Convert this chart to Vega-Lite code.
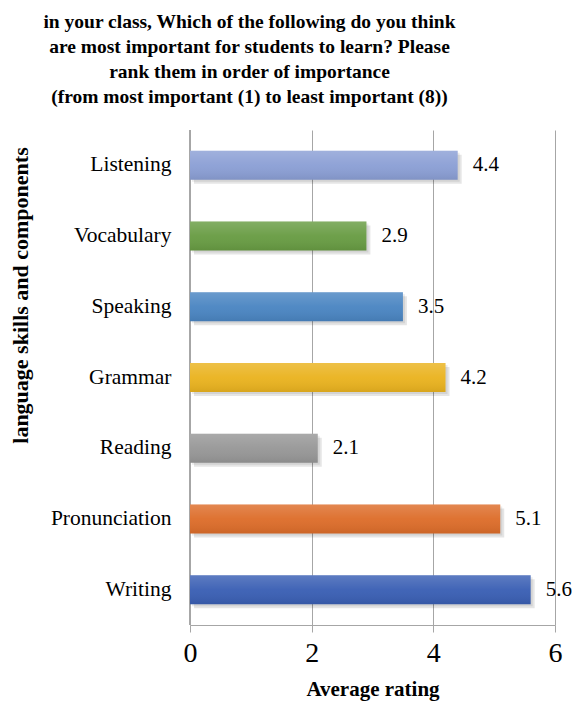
{
  "$schema": "https://vega.github.io/schema/vega-lite/v6.json",
  "width": 365,
  "height": 495,
  "autosize": "none",
  "padding": {"left": 190, "top": 130, "right": 20, "bottom": 77},
  "background": "white",
  "title": {
    "text": [
      "in your class, Which of the following do you think",
      "are most important for students to learn?  Please",
      "rank them  in order of importance",
      "(from most important (1) to least important (8))"
    ],
    "font": "Liberation Serif",
    "fontSize": 19.5,
    "fontWeight": "bold",
    "color": "#000000",
    "lineHeight": 25,
    "anchor": "middle",
    "frame": "group",
    "dx": -123,
    "offset": 22
  },
  "config": {
    "view": {"stroke": null},
    "font": "Liberation Serif",
    "axis": {"labelFont": "Liberation Serif", "titleFont": "Liberation Serif", "labelColor": "#000", "titleColor": "#000"}
  },
  "data": {
    "values": [
      {"skill": "Listening", "rating": 4.4},
      {"skill": "Vocabulary", "rating": 2.9},
      {"skill": "Speaking", "rating": 3.5},
      {"skill": "Grammar", "rating": 4.2},
      {"skill": "Reading", "rating": 2.1},
      {"skill": "Pronunciation", "rating": 5.1},
      {"skill": "Writing", "rating": 5.6}
    ]
  },
  "encoding": {
    "y": {
      "field": "skill",
      "type": "nominal",
      "sort": ["Listening", "Vocabulary", "Speaking", "Grammar", "Reading", "Pronunciation", "Writing"],
      "scale": {"paddingInner": 0.59, "paddingOuter": 0.295},
      "axis": {
        "title": "language skills and components",
        "titleFontSize": 22,
        "titleFontWeight": "bold",
        "titleX": -170,
        "titleY": 165,
        "titleAngle": -90,
        "titleAlign": "center",
        "titleBaseline": "middle",
        "labelFontSize": 21.5,
        "labelPadding": 19,
        "ticks": false,
        "domain": false,
        "grid": false
      }
    },
    "x": {
      "field": "rating",
      "type": "quantitative",
      "scale": {"domain": [0, 6], "nice": false},
      "axis": {
        "title": "Average rating",
        "titleFontSize": 21,
        "titleFontWeight": "bold",
        "titlePadding": 11,
        "values": [0, 2, 4, 6],
        "format": "d",
        "labelFontSize": 28,
        "labelPadding": 7,
        "labelFlush": false,
        "tickSize": 7,
        "tickColor": "#a6a6a6",
        "domainColor": "#a6a6a6",
        "gridColor": "#a6a6a6",
        "grid": true
      }
    }
  },
  "layer": [
    {
      "mark": {"type": "bar", "color": "#000000", "opacity": 0.1, "xOffset": 4, "yOffset": 4}
    },
    {
      "mark": {"type": "bar", "color": "#000000", "opacity": 0.08, "xOffset": 2, "yOffset": 2}
    },
    {
      "mark": {"type": "rule", "color": "#a6a6a6"},
      "encoding": {"x": {"datum": 0}, "y": null}
    },
    {
      "mark": {"type": "bar"},
      "encoding": {
        "color": {
          "field": "skill",
          "type": "nominal",
          "scale": {
            "domain": ["Listening", "Vocabulary", "Speaking", "Grammar", "Reading", "Pronunciation", "Writing"],
            "range": ["#8b9fd5", "#689c43", "#4a85c2", "#eab31f", "#979797", "#dd6d2a", "#3a5fb4"]
          },
          "legend": null
        }
      }
    },
    {
      "mark": {
        "type": "bar",
        "color": {
          "gradient": "linear",
          "x1": 0, "y1": 0, "x2": 0, "y2": 1,
          "stops": [
            {"offset": 0, "color": "rgba(255,255,255,0.18)"},
            {"offset": 0.5, "color": "rgba(255,255,255,0.04)"},
            {"offset": 1, "color": "rgba(0,0,0,0.08)"}
          ]
        }
      }
    },
    {
      "mark": {"type": "text", "align": "left", "baseline": "middle", "dx": 15, "font": "Liberation Serif", "fontSize": 21, "color": "#000"},
      "encoding": {"text": {"field": "rating", "type": "quantitative", "format": ".1f"}}
    }
  ]
}
